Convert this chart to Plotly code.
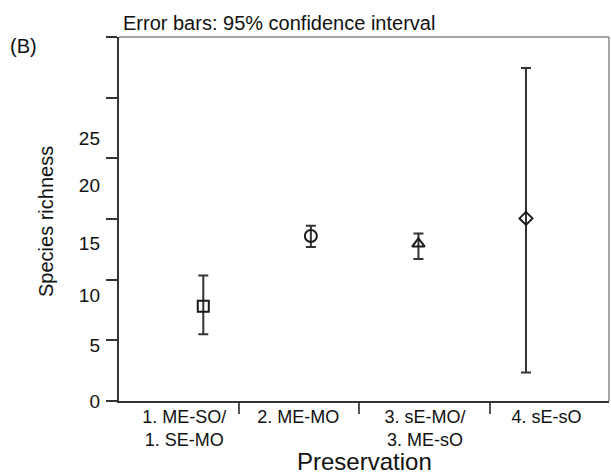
import plotly.graph_objects as go

# ---- data ----
categories = ["1. ME-SO/<br>1. SE-MO", "2. ME-MO", "3. sE-MO/<br>3. ME-sO", "4. sE-sO"]
mean_richness = [7.8, 13.6, 12.95, 15.05]
ci_lower = [5.5, 12.7, 11.7, 2.35]
ci_upper = [10.35, 14.45, 13.8, 27.45]
symbols = ["square-open", "circle-open", "triangle-up-open", "diamond-open"]
y_tick_values = [0, 5, 10, 15, 20, 25, 30]
y_tick_labels = ["0", "5", "10", "15", "20", "25"]

FONT = "Liberation Sans, Arial, Helvetica, sans-serif"
DARK = "#333333"

xpos = list(range(1, len(categories) + 1))
marker_sizes = [11, 12, 11, 10]

fig = go.Figure()
for i, cat in enumerate(categories):
    fig.add_trace(go.Scatter(
        x=[xpos[i]], y=[mean_richness[i]],
        mode="markers",
        marker=dict(symbol=symbols[i], size=marker_sizes[i], color="#1a1a1a",
                    line=dict(width=2, color="#1a1a1a")),
        error_y=dict(type="data", symmetric=False,
                     array=[ci_upper[i] - mean_richness[i]],
                     arrayminus=[mean_richness[i] - ci_lower[i]],
                     color=DARK, thickness=2, width=5),
        showlegend=False, hoverinfo="skip",
    ))

# invisible trace that carries the label overlay axes
fig.add_trace(go.Scatter(x=[None], y=[None], xaxis="x2", yaxis="y2",
                         showlegend=False, hoverinfo="skip"))

XR = [0.2166, 4.7714]
YR = [0, 30]

# where the printed labels sit in the original figure (label offsets)
x_label_at = [0.822, 1.883, 3.06, 4.19]
x_boundary_ticks = [1.332, 2.447, 3.664]
y_label_at = [0, 4.62, 8.74, 13.0, 17.8, 21.66]

fig.update_layout(
    width=611, height=475,
    margin=dict(l=119, r=2, t=37, b=74),
    paper_bgcolor="white", plot_bgcolor="white",
    font=dict(family=FONT, color="#111111", size=18),
    xaxis=dict(range=XR, showgrid=False, zeroline=False,
               showline=True, linecolor=DARK, linewidth=2,
               tickmode="array", tickvals=x_boundary_ticks,
               ticks="outside", ticklen=11, tickwidth=1.5, tickcolor="#555555",
               showticklabels=False),
    yaxis=dict(range=YR, showgrid=False, zeroline=False,
               showline=True, linecolor=DARK, linewidth=2,
               tickmode="array", tickvals=y_tick_values,
               ticks="outside", ticklen=11, tickwidth=1.5, tickcolor=DARK,
               showticklabels=False),
    xaxis2=dict(range=XR, overlaying="x", anchor="y2", side="bottom",
                showgrid=False, zeroline=False, showline=False,
                tickmode="array", tickvals=x_label_at, ticktext=categories,
                ticks="", ticklabelstandoff=3,
                tickfont=dict(family=FONT, size=18, color="#111111")),
    yaxis2=dict(range=YR, overlaying="y", anchor="x2", side="left",
                showgrid=False, zeroline=False, showline=False,
                tickmode="array", tickvals=y_label_at, ticktext=y_tick_labels,
                ticks="", ticklabelstandoff=18,
                tickfont=dict(family=FONT, size=19, color="#111111")),
    shapes=[
        dict(type="line", xref="paper", yref="paper", x0=0, x1=1, y0=1, y1=1,
             line=dict(color="#8a8a8a", width=1.5)),
        dict(type="line", xref="paper", yref="paper", x0=1, x1=1, y0=0, y1=1,
             line=dict(color="#8a8a8a", width=1.5)),
    ],
    annotations=[
        dict(text="Error bars: 95% confidence interval", xref="paper", yref="paper",
             x=0.005, y=(401 - 23.5) / 364, xanchor="left", yanchor="middle",
             showarrow=False, font=dict(family=FONT, size=20, color="#111111")),
        dict(text="(B)", xref="paper", yref="paper",
             x=(23.5 - 119) / 490, y=(401 - 46) / 364, xanchor="center", yanchor="middle",
             showarrow=False, font=dict(family=FONT, size=20, color="#111111")),
        dict(text="Species richness", xref="paper", yref="paper",
             x=(46 - 119) / 490, y=(401 - 222) / 364, xanchor="center", yanchor="middle",
             textangle=-90, showarrow=False,
             font=dict(family=FONT, size=20, color="#111111")),
        dict(text="Preservation", xref="paper", yref="paper",
             x=0.5, y=(401 - 461) / 364, xanchor="center", yanchor="middle",
             showarrow=False, font=dict(family=FONT, size=24, color="#111111")),
    ],
)

fig.write_html("out.html")
